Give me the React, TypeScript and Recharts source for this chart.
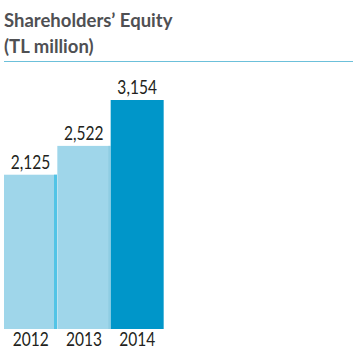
import { BarChart, Bar, XAxis, YAxis, LabelList, Cell } from "recharts";

const years = ["2012", "2013", "2014"];
const equity = [2125, 2522, 3154];
const barColors = ["#9fd6ea", "#9fd6ea", "#0096c9"];

const chartData = years.map((year, i) => ({ year, value: equity[i] }));

const titleFont = "Lato, 'Open Sans', sans-serif";
const numFont = "Lato, sans-serif";

// narrow the digits a bit, the original face is condensed
const NarrowText = ({ x, y, children }: any) => (
  <text
    x={x}
    y={y}
    textAnchor="middle"
    fontSize={18.5}
    fill="#231f20"
    fontFamily={numFont}
    transform={`translate(${x} ${y}) scale(0.84 1) translate(${-x} ${-y})`}
  >
    {children}
  </text>
);

const YearTick = (props: any) => {
  const { x, y, payload } = props;
  return <NarrowText x={x} y={y + 15}>{payload.value}</NarrowText>;
};

const ValueLabel = (props: any) => {
  const { x, y, width, value } = props;
  return (
    <NarrowText x={x + width / 2} y={y - 6}>
      {Number(value).toLocaleString("en-US")}
    </NarrowText>
  );
};

const BarShape = (props: any) => {
  const { x, y, width, height, fill, index } = props;
  return (
    <g>
      <rect x={x} y={y} width={width} height={height} fill={fill} />
      {index === 0 && (
        <rect x={x + width - 3} y={y} width={3} height={height} fill="#52c4e6" />
      )}
      {index === 1 && (
        <rect x={x + width - 2} y={y} width={2} height={height} fill="#8fcde3" />
      )}
    </g>
  );
};

const App = () => {
  return (
    <div style={{ position: "absolute", left: 0, top: 0, width: 354, height: 354, background: "#fff" }}>
      <div style={{ position: "absolute", left: 4, top: 7, fontSize: 18.5, lineHeight: "26px", color: "#4f5053", fontWeight: 700, fontFamily: titleFont }}>
        Shareholders’ Equity
        <br />
        (TL million)
      </div>
      <div style={{ position: "absolute", left: 4, top: 61, width: 349, height: 1, background: "#6cc0da" }} />
      <div style={{ position: "absolute", left: 0, top: 0 }}>
        <BarChart
          width={354}
          height={354}
          data={chartData}
          margin={{ top: 100, right: 190, bottom: 0, left: 4 }}
          barCategoryGap={0}
          barGap={0}
        >
          <YAxis hide domain={[0, 3154]} />
          <XAxis
            dataKey="year"
            height={25}
            axisLine={false}
            tickLine={false}
            tickSize={0}
            tick={<YearTick />}
          />
          <Bar dataKey="value" isAnimationActive={false} shape={<BarShape />}>
            {chartData.map((d, i) => (
              <Cell key={d.year} fill={barColors[i]} />
            ))}
            <LabelList dataKey="value" content={<ValueLabel />} />
          </Bar>
        </BarChart>
      </div>
    </div>
  );
};

export default App;
